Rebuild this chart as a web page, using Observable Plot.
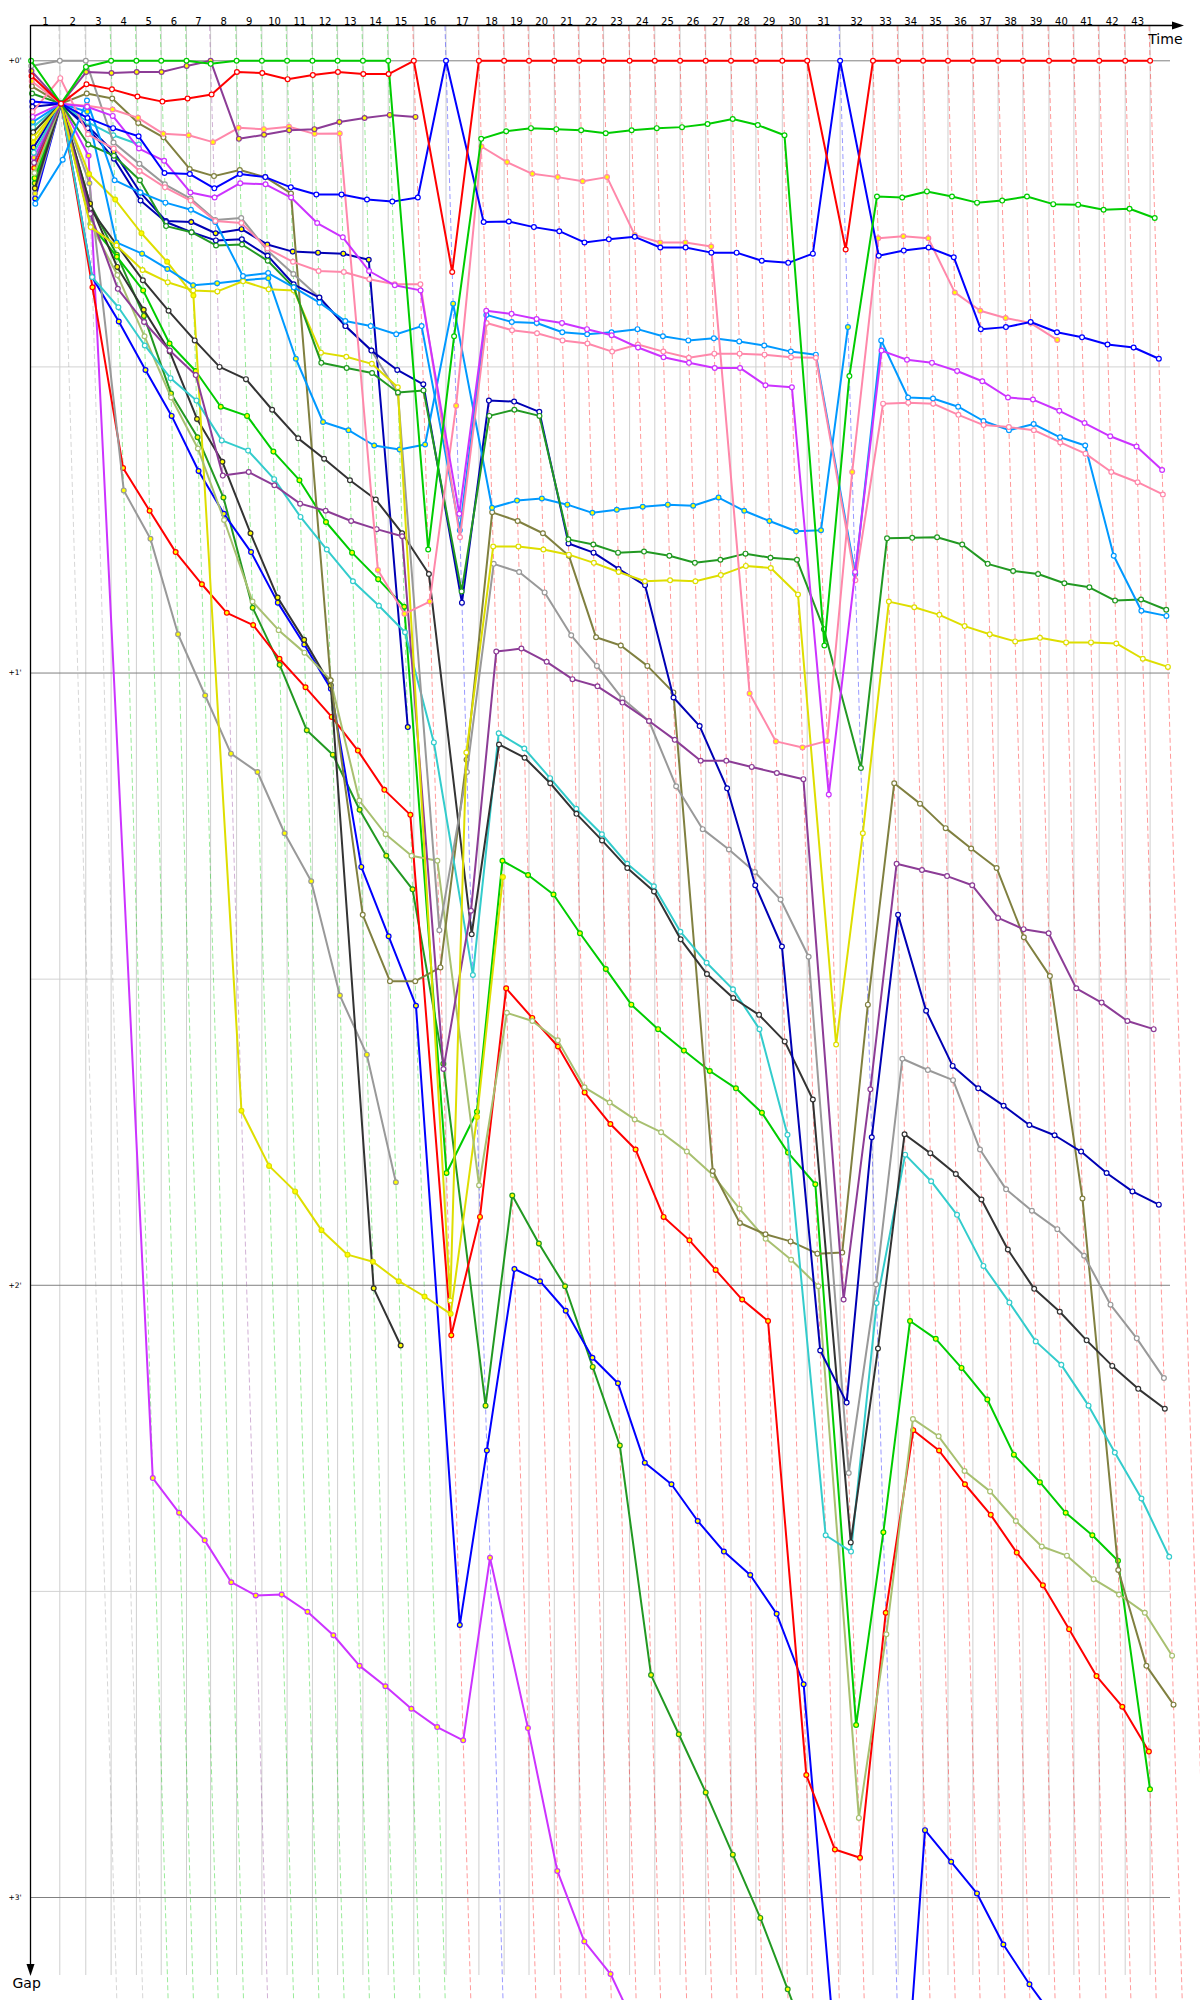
<!DOCTYPE html>
<html><head><meta charset="utf-8">
<script src="https://cdn.jsdelivr.net/npm/d3@7"></script>
<script src="https://cdn.jsdelivr.net/npm/@observablehq/plot@0.6"></script>
<style>body{margin:0;background:#fff}</style>
</head><body><div id="chart"></div>
<script>
// Leader's race time (s) at the end of each lap, lap 0 .. 43
const leaderTime = [0,95.7,182.3,266.7,351,433.7,518,598.3,685,769.3,853.3,937.7,1021.7,1106,1190.3,1275.7,1383,1492.7,1576.7,1659.7,1744,1826.7,1908.3,1995,2079,2163.3,2248.7,2333,2416,2504,2587,2696.7,2806.3,2890.3,2973.3,3056.3,3139.3,3223.3,3306.3,3393,3476,3560.3,3647,3730];
const lapLabels = d3.range(1, 44);
const gapTicks = [0, 60, 120, 180];
const halfTicks = [30, 90, 150];

// Gap to leader (s) per lap, starting at lap 0
const redW = [1.5,4.2,2.3,2.8,3.5,4.0,3.7,3.3,1.1,1.2,1.8,1.4,1.1,1.3,1.3,0,20.7,0,0,0,0,0,0,0,0,0,0,0,0,0,0,18.5,0,0,0,0,0,0,0,0,0,0,0,0];
const greenW = [0,4.2,0.6,0,0,0,0,0.3,0,0,0,0,0,0,0,47.9,27,7.65,6.9,6.6,6.7,6.8,7.1,6.8,6.6,6.5,6.2,5.7,6.3,7.3,57.3,30.9,13.3,13.4,12.8,13.3,13.9,13.7,13.3,14.05,14.1,14.6,14.5,15.4];
const blueW = [4.0,4.2,5.6,6.6,7.4,11.0,11.1,12.5,11.1,11.4,12.4,13.1,13.1,13.6,13.8,13.4,0,15.8,15.75,16.3,16.7,17.8,17.5,17.25,18.3,18.3,18.8,18.8,19.6,19.8,18.9,0,19.1,18.6,18.3,19.25,26.3,26.1,25.6,26.6,27.1,27.8,28.1,29.2];
const magentaW = [5.5,4.2,4.5,5.4,8.6,9.8,12.9,13.4,12.0,12.1,13.4,15.9,17.3,20.6,22.0,22.5,44.4,24.5,24.8,25.3,25.7,26.3,26.9,28.1,29.05,29.6,30.1,30.1,31.8,32.0,71.9,50.1,28.4,29.3,29.6,30.4,31.4,33.0,33.2,34.3,35.5,36.8,37.8,40.1];
const pinkW = [5,1.7,7.2,8.6,10.8,12.4,13.7,15.7,15.9,18.4,19.7,20.6,20.7,21.4,21.9,21.9,46.7,25.7,26.4,26.7,27.4,27.7,28.5,27.8,28.5,29.1,28.7,28.7,28.8,29.05,29.1,50.9,33.6,33.5,33.6,34.7,35.7,35.9,36.2,37.4,38.5,40.3,41.3,42.5];
const skyW = [14,9.7,3.9,11.7,12.9,13.9,14.6,15.8,21.1,20.8,22.2,23.7,25.5,26.0,26.8,26.0,46.0,24.9,25.6,25.7,26.6,26.8,26.6,26.3,27.0,27.4,27.2,27.5,27.9,28.5,28.8,50.3,27.4,33.0,33.1,33.9,35.3,36.2,35.6,36.9,37.7,48.5,53.9,54.4];
const skyY = [6,4.2,5.0,17.8,18.9,20.4,22.0,21.8,21.5,21.3,29.2,35.4,36.2,37.7,38.1,37.6,23.8,43.8,43.1,42.9,43.5,44.3,44.0,43.7,43.5,43.6,42.8,44.1,45.1,46.1,46.0,26.1];
const darkgreenW = [3.2,4.2,8.2,9.3,11.7,16.2,16.8,18.1,18.0,19.6,22.2,29.6,30.1,30.6,32.5,32.3,52,34.8,34.2,34.8,46.9,47.4,48.2,48.1,48.5,49.2,48.9,48.3,48.7,48.9,55.7,69.3,46.8,46.75,46.7,47.4,49.3,50.0,50.3,51.2,51.6,52.9,52.8,53.8];
const yellowW = [7.5,4.2,16.3,18.1,20.5,21.7,22.5,22.6,21.6,22.4,22.5,28.6,29.0,29.7,32.0,121.5,67.8,47.6,47.6,47.9,48.4,49.2,50.1,51.0,50.9,51.0,50.4,49.5,49.7,52.3,96.4,75.7,53.0,53.55,54.3,55.4,56.2,56.9,56.55,57.0,57.0,57.1,58.6,59.4];
const yellowY = [8,4.2,11.1,13.6,16.9,19.7,23.0,102.9,108.3,110.8,114.6,117.0,117.7,119.6,121.1,122.8,103.5,80.0];
const purpleW = [10,4.2,15,22.35,25.6,28.4,30.8,40.65,40.3,41.6,43.4,44.1,45.1,45.9,46.6,98.8,83.3,57.9,57.6,58.9,60.6,61.3,62.9,64.7,66.55,68.6,68.6,69.2,69.8,70.4,121.4,100.8,78.7,79.3,79.9,80.8,84.0,85.1,85.5,90.9,92.3,94.1,94.9];
const purpleY = [1.0,4.2,1.1,1.2,1.1,1.1,0.5,0,7.65,7.25,6.8,6.7,6.0,5.6,5.3,5.5];
const navyW = [4.5,4.2,6.6,9.6,13.7,15.8,16.8,17.6,17.5,19.1,21.9,23.2,26.0,28.4,30.3,31.7,53.1,33.3,33.4,34.4,47.3,48.2,49.8,51.4,62.4,65.2,71.3,80.8,86.8,126.4,131.5,105.5,83.7,93.1,98.5,100.7,102.4,104.3,105.3,106.9,109.0,110.8,112.1];
const navyY = [8.5,4.2,6.4,8.9,12.9,15.7,15.8,16.9,16.5,18.0,18.7,18.8,18.9,19.5,65.3];
const greyW = [0.5,0,0,8.0,10.1,12.1,13.5,15.6,15.4,18.6,20.9,23.2,26.0,28.4,32.6,85.2,69.7,49.3,50.1,52.1,56.3,59.3,62.5,64.7,71.1,75.3,77.3,79.5,82.2,87.8,138.4,119.9,97.8,98.9,99.9,106.7,110.6,112.7,114.5,117.1,121.9,125.2,129.1];
const greyY = [13,4.2,12,42.1,46.85,56.2,62.2,67.9,69.7,75.7,80.4,91.6,97.4,109.9];
const blackW = [7,4.2,14.5,18.0,21.5,24.5,27.4,30.0,31.2,34.2,37.0,39.0,41.1,43.0,46.3,50.3,85.6,67.0,68.3,70.8,73.8,76.4,79.1,81.4,86.1,89.5,91.85,93.5,96.1,101.8,145.2,126.2,105.2,107.05,109.1,111.6,116.5,120.35,122.6,125.4,127.9,130.15,132.1];
const blackY = [12.5,4.2,14,20.2,24.4,28.5,35.1,39.3,46.3,52.6,56.75,61.2,120.3,125.9];
const cyanW = [9,4.2,21.2,24.15,27.9,31.1,33.3,37.2,38.2,41.0,44.7,47.9,51.0,53.4,56.0,66.8,89.6,65.9,67.4,70.3,73.3,75.8,78.7,80.9,85.35,88.4,91.0,94.9,105.25,144.5,146.1,121.75,107.2,109.8,113.1,118.1,121.7,125.5,127.8,131.8,136.4,140.9,146.6];
const cyanY = [6.5,4.2,6.0,7.3,8.2];
const oliveW = [2.5,4.2,3.2,3.7,6.1,7.5,10.6,11.3,10.7,11.4,13.0,60.7,83.7,90.2,90.2,88.85,68.5,44.25,45.1,46.3,48.5,56.5,57.3,59.3,61.9,108.8,113.9,115.0,115.7,116.9,116.8,92.5,70.8,72.8,75.2,77.2,79.1,85.9,89.7,111.5,147.9,157.3,161.1];
const lightoliveW = [11,4.2,16,21,27,33,38,45,53.0,55.8,58.0,60.7,72.5,75.8,77.9,78.4,110.2,93.3,94.1,96.0,100.6,102.1,103.75,105.0,106.9,109.2,112.5,115.45,117.5,120.1,172.2,154.2,133.1,134.8,138.2,140.2,143.1,145.6,146.5,148.8,150.3,152.1,156.3];
const greenY = [11.5,4.2,16,19.2,22.5,27.7,30.4,33.9,34.8,38.3,41.1,45.2,48.2,50.8,53.5,109.0,103.0,78.4,79.8,81.7,85.5,89.0,92.5,94.9,97.0,99.0,100.7,103.1,107.0,110.1,163.1,144.2,123.5,125.25,128.1,131.2,136.6,139.3,142.3,144.5,147.0,169.4];
const redY = [10.5,4.2,22.2,39.9,44.1,48.15,51.3,54.1,55.3,58.6,61.4,64.3,67.6,71.45,73.9,124.9,113.3,90.9,93.8,96.6,101.1,104.2,106.7,113.3,115.6,118.5,121.4,123.5,168.0,175.3,176.1,152.1,134.2,136.2,139.5,142.5,146.2,149.4,153.7,158.3,161.3,165.7];
const blueY = [13.5,4.2,21.2,25.55,30.3,34.8,40.2,44.4,48.15,53.1,57.2,61.55,79.0,85.8,92.6,153.3,136.2,118.4,119.6,122.5,127.1,129.6,137.4,139.5,143.1,146.1,148.4,152.2,159.1,205,215,205,173.4,176.5,179.6,184.6,188.5,192,195];
const darkgreenY = [12,4.2,14,19,25,32.6,36.9,42.8,53.6,59.2,65.6,68.0,73.4,77.9,81.2,98.3,131.8,111.2,115.9,120.1,128.0,135.7,158.2,164.0,169.7,175.8,182.0,189,196];
const magentaY = [9.5,4.2,9.3,138.9,142.3,145.0,149.1,150.4,150.3,152.0,154.3,157.3,159.3,161.5,163.3,164.6,146.7,163.4,177.4,184.3,187.5,193,199];
const pinkY = [2,4.2,4.4,4.77,5.59,7.16,7.29,7.97,6.57,6.7,6.47,7.16,7.12,49.9,54.2,53.0,33.8,8.4,9.93,11.08,11.4,11.8,11.4,17.06,17.8,17.8,18.2,62.0,66.7,67.3,66.65,40.3,17.4,17.2,17.4,22.7,24.5,25.2,25.7,27.35];

// Series table (drawing order: first drawn at the bottom)
const seriesTable = [
  {gaps: magentaY, hue: "magenta", marked: true},
  {gaps: darkgreenY, hue: "darkgreen", marked: true},
  {gaps: blueY, hue: "blue", marked: true},
  {gaps: redY, hue: "red", marked: true},
  {gaps: greenY, hue: "green", marked: true},
  {gaps: greyY, hue: "grey", marked: true},
  {gaps: blackY, hue: "black", marked: true},
  {gaps: yellowY, hue: "yellow", marked: true},
  {gaps: navyY, hue: "navy", marked: true},
  {gaps: cyanY, hue: "cyan", marked: false},
  {gaps: lightoliveW, hue: "lightolive", marked: false},
  {gaps: oliveW, hue: "olive", marked: false},
  {gaps: cyanW, hue: "cyan", marked: false},
  {gaps: blackW, hue: "black", marked: false},
  {gaps: greyW, hue: "grey", marked: false},
  {gaps: navyW, hue: "navy", marked: false},
  {gaps: purpleW, hue: "purple", marked: false},
  {gaps: skyY, hue: "sky", marked: true},
  {gaps: yellowW, hue: "yellow", marked: false},
  {gaps: darkgreenW, hue: "darkgreen", marked: false},
  {gaps: skyW, hue: "sky", marked: false},
  {gaps: pinkY, hue: "pink", marked: true},
  {gaps: pinkW, hue: "pink", marked: false},
  {gaps: magentaW, hue: "magenta", marked: false},
  {gaps: purpleY, hue: "purple", marked: true},
  {gaps: blueW, hue: "blue", marked: false},
  {gaps: greenW, hue: "green", marked: false},
  {gaps: redW, hue: "red", marked: false}
];

// Styles
const hues = {
  red: "#ff0000", green: "#00cc00", blue: "#0000ff", magenta: "#cc33ff",
  pink: "#ff88aa", sky: "#0099ff", darkgreen: "#229922", yellow: "#dede00",
  purple: "#8c3c96", navy: "#0000b4", grey: "#999999", black: "#333333",
  cyan: "#33cccc", olive: "#808040", lightolive: "#a8c070"
};
const markFill = "#ffff00";

const series = seriesTable.map((s, k) => ({
  key: k,
  color: hues[s.hue],
  fill: s.marked ? markFill : "#ffffff",
  points: s.gaps.map((g, lap) => ({lap, gap: g, t: g == null ? null : leaderTime[lap] + g}))
                .filter(d => d.gap != null)
}));

// Leader of each lap (smallest gap) gives the colour of that lap's dashed line
const leaderColor = leaderTime.map((_, lap) => {
  let best = null, bestGap = Infinity;
  for (const s of series) {
    const p = s.points.find(d => d.lap === lap);
    if (p && p.gap < bestGap) { bestGap = p.gap; best = s; }
  }
  return best ? best.color : "#999";
});

const marks = [
  Plot.ruleY(halfTicks, {stroke: "#d2d2d2"}),
  Plot.ruleX(leaderTime.slice(1), {stroke: "#cfcfcf"}),
  Plot.link(lapLabels, {
    x1: i => leaderTime[i] - 3.4, y1: -3.4,
    x2: i => leaderTime[i] + 191, y2: 191,
    stroke: i => leaderColor[i], strokeOpacity: 0.4, strokeDasharray: "5,3", strokeWidth: 1
  }),
  Plot.ruleY(gapTicks, {stroke: "#808080"}),
  Plot.text(lapLabels, {
    x: i => (leaderTime[i - 1] + leaderTime[i]) / 2, frameAnchor: "top", dy: -8,
    text: i => String(i), fontSize: 10, fill: "#000"
  }),
  Plot.text(gapTicks, {
    y: d => d, frameAnchor: "left", dx: -10, textAnchor: "end",
    text: d => `+${d / 60}'`, fontSize: 7.5, fill: "#000"
  }),
  Plot.text(["Time"], {frameAnchor: "top-right", dx: 12, dy: 9, textAnchor: "end", fontSize: 14, fill: "#000"}),
  Plot.text(["Gap"], {frameAnchor: "bottom-left", dx: -19, dy: 12, textAnchor: "start", fontSize: 14, fill: "#000"})
];
for (const s of series) {
  marks.push(Plot.line(s.points, {x: "t", y: "gap", stroke: s.color, strokeWidth: 2}));
  marks.push(Plot.dot(s.points, {x: "t", y: "gap", r: 2.4, stroke: s.color, fill: s.fill, strokeWidth: 1.2}));
}

const chart = Plot.plot({
  width: 1200,
  height: 2000,
  marginLeft: 31,
  marginRight: 30,
  marginTop: 25,
  marginBottom: 25,
  x: {domain: [0, 3730], range: [30.6, 1149.6], axis: null},
  y: {domain: [0, 180], range: [60.3, 1897], axis: null},
  color: {type: "identity"},
  style: {fontFamily: "'DejaVu Sans', Verdana, sans-serif", background: "#fff", overflow: "hidden"},
  marks
});

// axis lines with arrowheads
const svg = d3.select(chart);
const ax = svg.append("g").attr("fill", "#000").attr("stroke", "#000");
ax.append("line").attr("x1", 30.5).attr("x2", 1176).attr("y1", 25.5).attr("y2", 25.5).attr("stroke-width", 1.3);
ax.append("path").attr("stroke", "none").attr("d", "M1184,25.5L1172,21.5L1172,29.5Z");
ax.append("line").attr("x1", 30.5).attr("x2", 30.5).attr("y1", 25).attr("y2", 1968).attr("stroke-width", 1.3);
ax.append("path").attr("stroke", "none").attr("d", "M30.5,1976L26.5,1964L34.5,1964Z");

document.getElementById("chart").appendChild(chart);
</script>
</body></html>
